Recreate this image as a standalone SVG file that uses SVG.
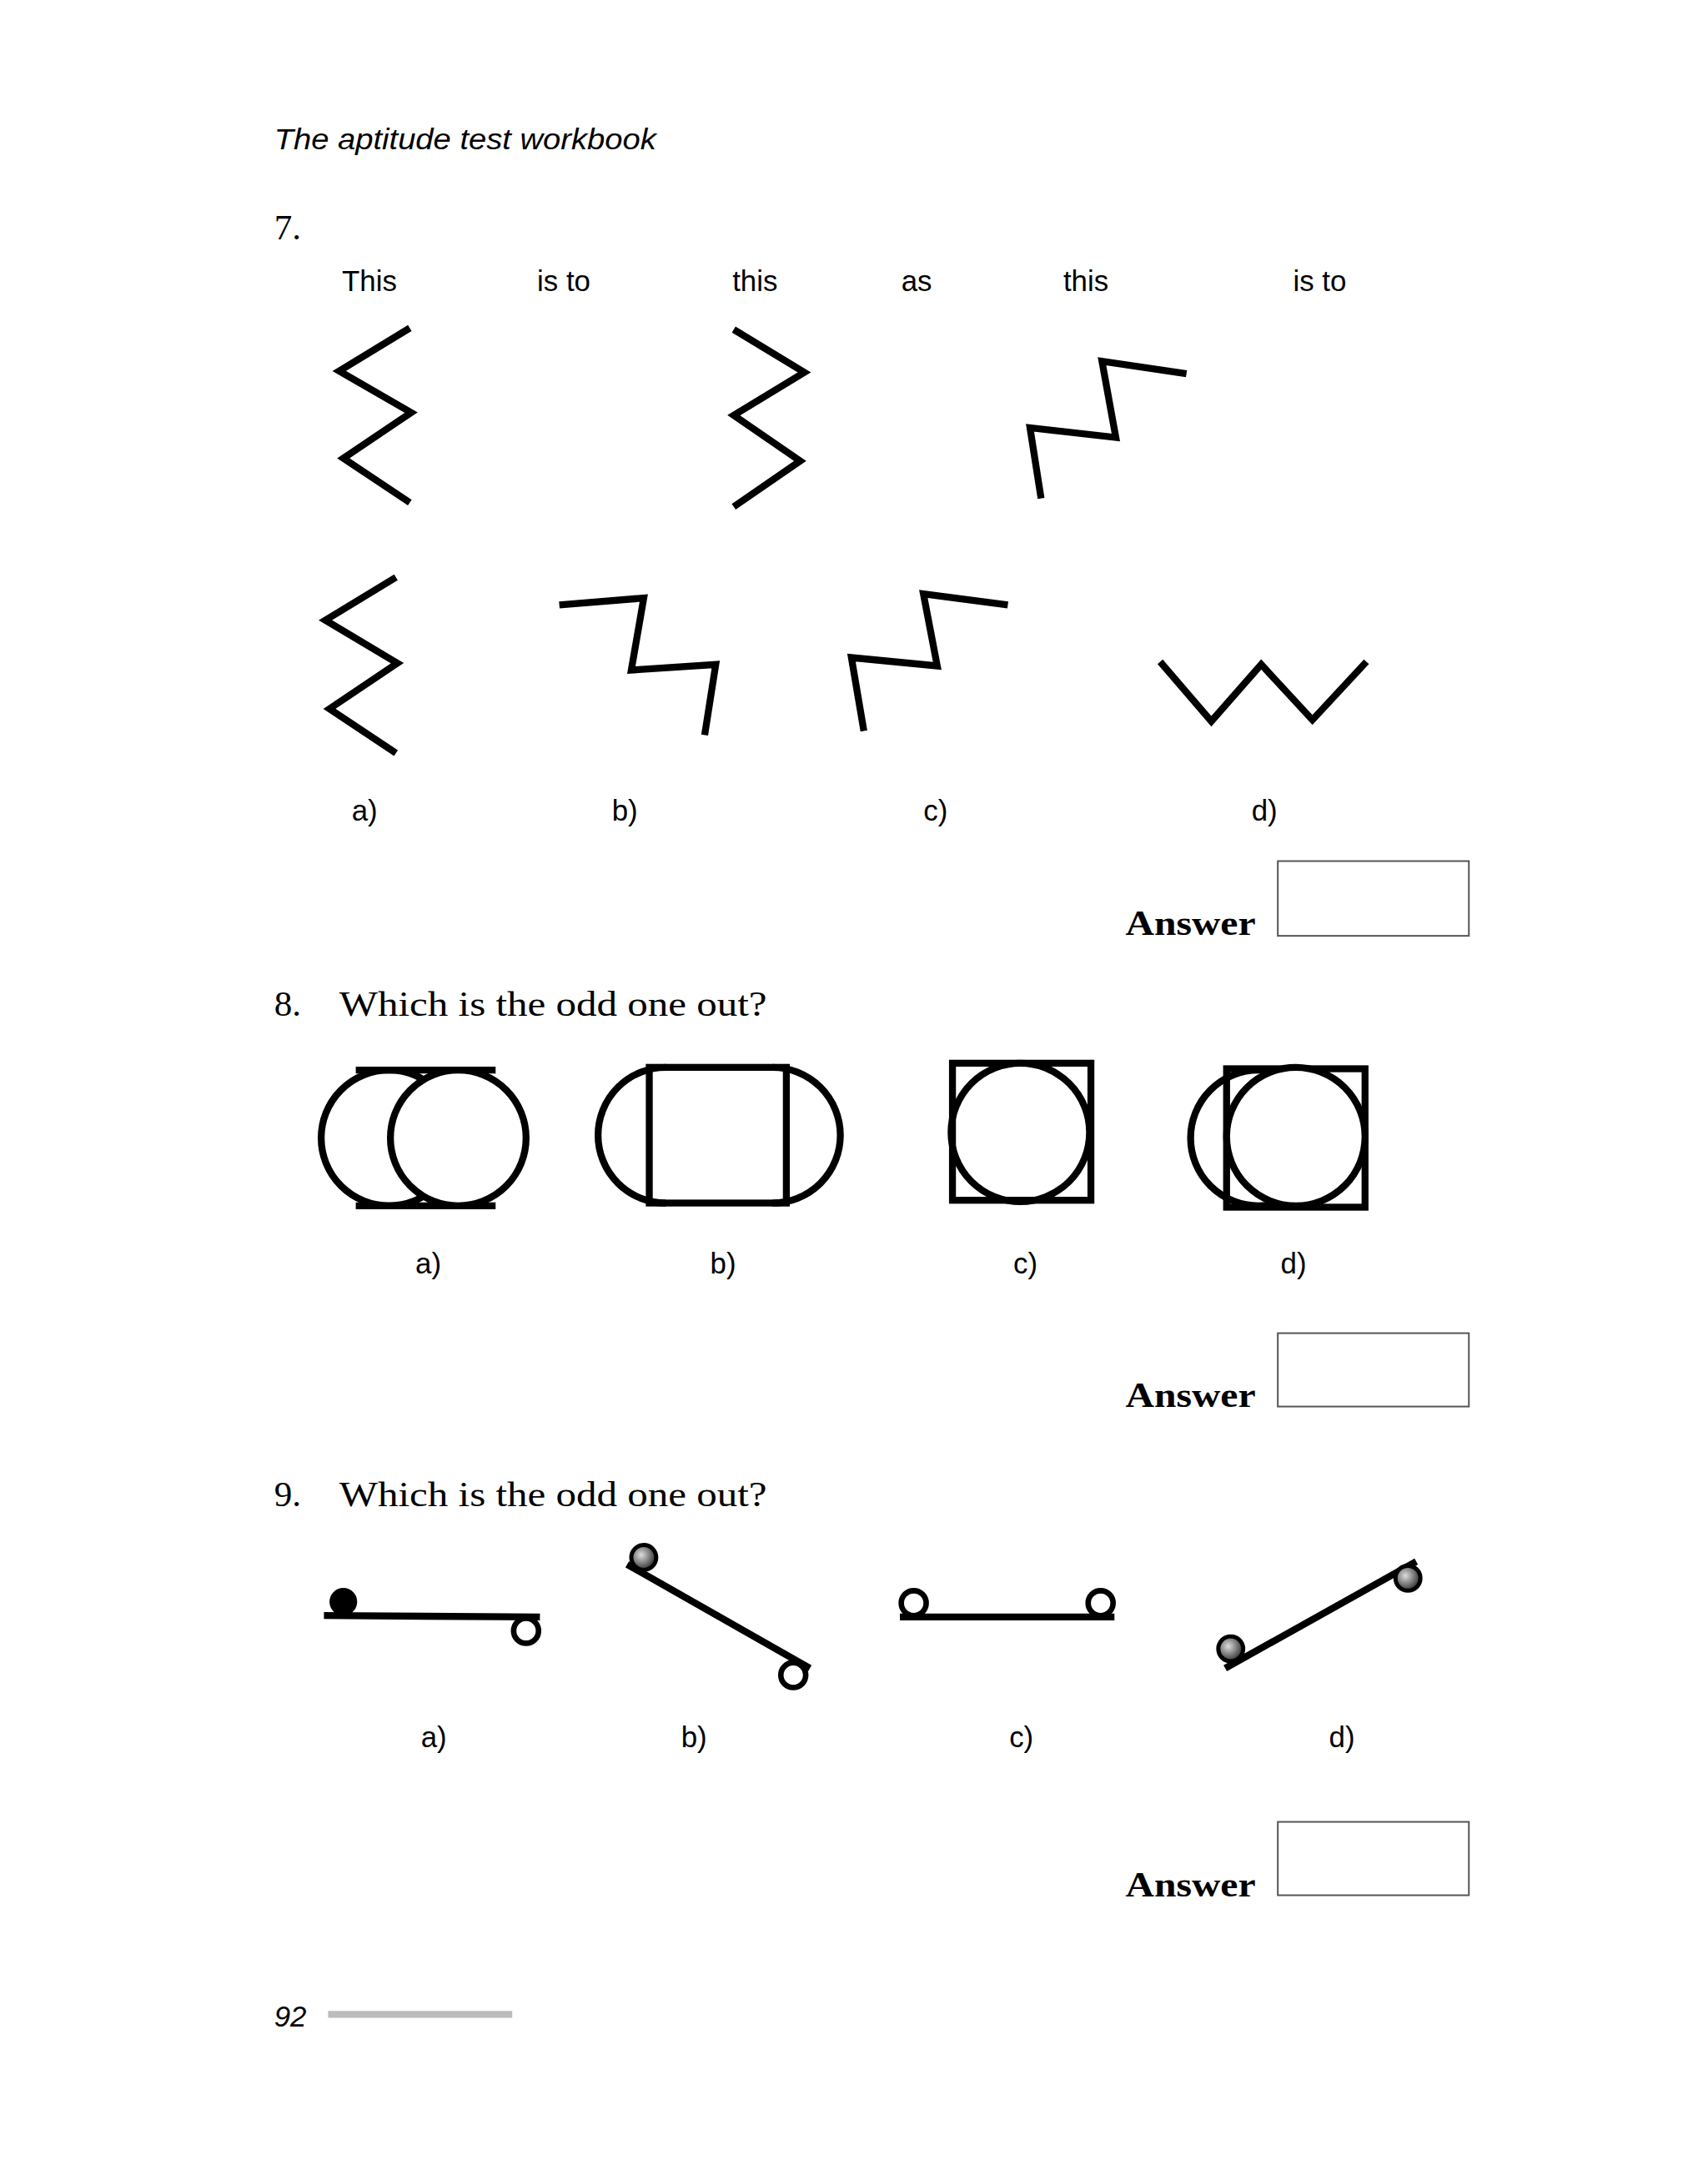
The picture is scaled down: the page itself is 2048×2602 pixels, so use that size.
<svg xmlns="http://www.w3.org/2000/svg" width="2048" height="2602" viewBox="0 0 2048 2602">
<defs>
<style>
.s{font-family:"Liberation Sans",Arial,sans-serif;font-size:21px;fill:#000}
.q{font-family:"Liberation Serif","Times New Roman",serif;font-size:26px;fill:#000}
.ans{font-family:"Liberation Serif","Times New Roman",serif;font-size:26px;font-weight:bold;fill:#000}
.z{fill:none;stroke:#000;stroke-width:5}
.f{fill:none;stroke:#000;stroke-width:5}
.box{fill:#fff;stroke:#555;stroke-width:1.2}
.o{fill:#fff;stroke:#000;stroke-width:4}
.g{fill:url(#gr);stroke:#000;stroke-width:3}
</style>
<radialGradient id="gr" cx="0.4" cy="0.4" r="0.6"><stop offset="0" stop-color="#ddd"/><stop offset="1" stop-color="#333"/></radialGradient>
</defs>
<rect width="2048" height="2602" fill="#fff"/>
<g transform="scale(1.66)">
<text x="198" y="108" class="s" font-style="italic" font-size="22" textLength="276" lengthAdjust="spacingAndGlyphs">The aptitude test workbook</text>
<g id="q7">
<text x="198" y="173" class="q">7.</text>
<text x="247" y="210" class="s">This</text>
<text x="388" y="210" class="s">is to</text>
<text x="529" y="210" class="s">this</text>
<text x="651" y="210" class="s">as</text>
<text x="768" y="210" class="s">this</text>
<text x="934" y="210" class="s">is to</text>
<polyline class="z" points="296,237 245,268 297,298 248,331 296,363"/>
<polyline class="z" points="530,238 581,269 530,300 578,333 530,366"/>
<polyline class="z" points="857,270 796,261 806,316 744,309 752,360"/>
<polyline class="z" points="286,417 235,448 287,479 238,512 286,544"/>
<polyline class="z" points="404,437 465,432 456,484 517,480 509,531"/>
<polyline class="z" points="728,437 667,429 677,481 615,475 624,528"/>
<polyline class="z" points="838,478 875,521 911,480 948,520 987,478"/>
<text x="254" y="593" class="s">a)</text>
<text x="442" y="593" class="s">b)</text>
<text x="667" y="593" class="s">c)</text>
<text x="904" y="593" class="s">d)</text>
<text x="813" y="675" class="ans" textLength="94" lengthAdjust="spacingAndGlyphs">Answer</text>
<rect x="923" y="622" width="138" height="54" class="box"/>
</g>
<g id="q8">
<text x="198" y="734" class="q">8.</text>
<text x="245" y="734" class="q" textLength="309" lengthAdjust="spacingAndGlyphs">Which is the odd one out?</text>
<line x1="257" y1="773" x2="358" y2="773" class="f"/>
<line x1="257" y1="871" x2="358" y2="871" class="f"/>
<circle cx="281" cy="822" r="49" class="f"/>
<circle cx="331" cy="822" r="49" fill="#fff" stroke="#000" stroke-width="5"/>
<rect x="469" y="771" width="99" height="98" class="f"/>
<path d="M481,771 A49,49 0 0 0 481,869" class="f"/>
<path d="M558,771 A49,49 0 0 1 558,869" class="f"/>
<rect x="688" y="768" width="100" height="99" class="f"/>
<circle cx="737" cy="818" r="50" class="f"/>
<circle cx="909" cy="822" r="49" class="f"/>
<rect x="886" y="772" width="100" height="100" class="f"/>
<circle cx="936" cy="821" r="50" fill="#fff" stroke="#000" stroke-width="5"/>
<text x="300" y="920" class="s">a)</text>
<text x="513" y="920" class="s">b)</text>
<text x="732" y="920" class="s">c)</text>
<text x="925" y="920" class="s">d)</text>
<text x="813" y="1016" class="ans" textLength="94" lengthAdjust="spacingAndGlyphs">Answer</text>
<rect x="923" y="963" width="138" height="53" class="box"/>
</g>
<g id="q9">
<text x="198" y="1088" class="q">9.</text>
<text x="245" y="1088" class="q" textLength="309" lengthAdjust="spacingAndGlyphs">Which is the odd one out?</text>
<line x1="234" y1="1167" x2="390" y2="1168" class="f"/>
<circle cx="248" cy="1157" r="10" fill="#000"/>
<circle cx="380" cy="1178" r="9" class="o"/>
<line x1="453" y1="1130" x2="585" y2="1205" class="f"/>
<circle cx="465" cy="1125" r="9" class="g"/>
<circle cx="573" cy="1210" r="9" class="o"/>
<line x1="650" y1="1168" x2="805" y2="1168" class="f"/>
<circle cx="660" cy="1158" r="9" class="o"/>
<circle cx="795" cy="1158" r="9" class="o"/>
<line x1="885" y1="1205" x2="1023" y2="1128" class="f"/>
<circle cx="889" cy="1191" r="9" class="g"/>
<circle cx="1017" cy="1140" r="9" class="g"/>
<text x="304" y="1262" class="s">a)</text>
<text x="492" y="1262" class="s">b)</text>
<text x="729" y="1262" class="s">c)</text>
<text x="960" y="1262" class="s">d)</text>
<text x="813" y="1370" class="ans" textLength="94" lengthAdjust="spacingAndGlyphs">Answer</text>
<rect x="923" y="1316" width="138" height="53" class="box"/>
</g>
<text x="198" y="1464" class="s" font-style="italic" font-size="27">92</text>
<line x1="237" y1="1455" x2="370" y2="1455" stroke="#bbb" stroke-width="5"/>
</g>
</svg>
